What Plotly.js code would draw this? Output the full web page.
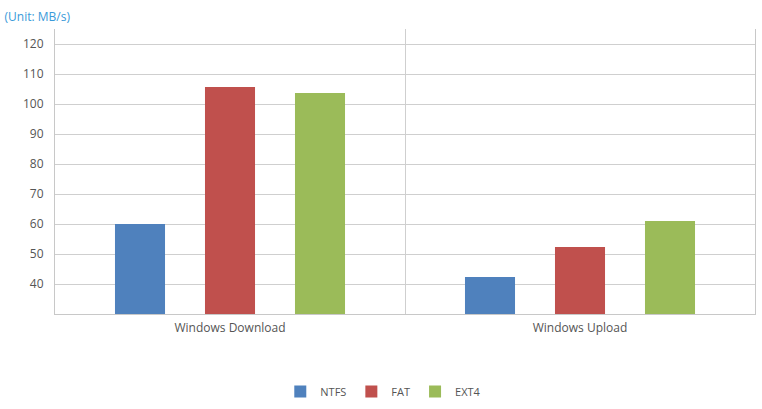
<!DOCTYPE html>
<html>
<head>
<meta charset="utf-8">
<script src="https://cdn.plot.ly/plotly-3.0.1.min.js"></script>
<style>
  html, body { margin: 0; padding: 0; background: #fff; }
  #chart { width: 762px; height: 409px; }
</style>
</head>
<body>
<div id="chart"></div>
<script>
var categories = ['Windows Download', 'Windows Upload'];
var ntfs = [60, 42.3];
var fat = [105.7, 52.3];
var ext4 = [103.7, 61];
var seriesNames = ['NTFS', 'FAT', 'EXT4'];
var seriesColors = ['#4f81bd', '#c0504d', '#9bbb59'];

var data = [ntfs, fat, ext4].map(function (vals, i) {
	return {
		x: categories,
		y: vals,
		type: 'bar',
		name: seriesNames[i],
		marker: {color: seriesColors[i]},
		hoverinfo: 'x+y+name'
	};
});

var layout = {
	width: 762,
	height: 409,
	margin: {l: 55, r: 7, t: 29, b: 95},
	font: {family: '"Open Sans", sans-serif', size: 12, color: '#555'},
	paper_bgcolor: '#fff',
	plot_bgcolor: '#fff',
	barmode: 'group',
	bargap: 0.2286,
	bargroupgap: 0.444,
	title: {
		text: '(Unit: MB/s)',
		font: {size: 12, color: '#3a9ad9'},
		x: 0.006, xanchor: 'left', xref: 'container',
		y: 0.96, yanchor: 'middle', yref: 'container'
	},
	xaxis: {
		type: 'category',
		tickson: 'boundaries',
		showgrid: true,
		gridcolor: '#cfcfcf',
		showline: true,
		linecolor: '#c8c8c8',
		ticks: '',
		ticklabelstandoff: 3,
		tickfont: {size: 12, color: '#555'},
		zeroline: false
	},
	yaxis: {
		range: [30, 125],
		tickvals: [40, 50, 60, 70, 80, 90, 100, 110, 120],
		showgrid: true,
		gridcolor: '#cfcfcf',
		showline: true,
		mirror: true,
		linecolor: '#c8c8c8',
		ticks: '',
		ticklabelstandoff: 8,
		tickfont: {size: 12, color: '#555'},
		zeroline: false
	},
	showlegend: true,
	legend: {
		orientation: 'h',
		xref: 'container', x: 0.503, xanchor: 'center',
		yref: 'container', y: 0.043, yanchor: 'middle',
		font: {size: 11, color: '#555'},
		itemwidth: 30,
		tracegroupgap: 0
	}
};

Plotly.newPlot('chart', data, layout, {displayModeBar: false, staticPlot: true});
</script>
</body>
</html>
